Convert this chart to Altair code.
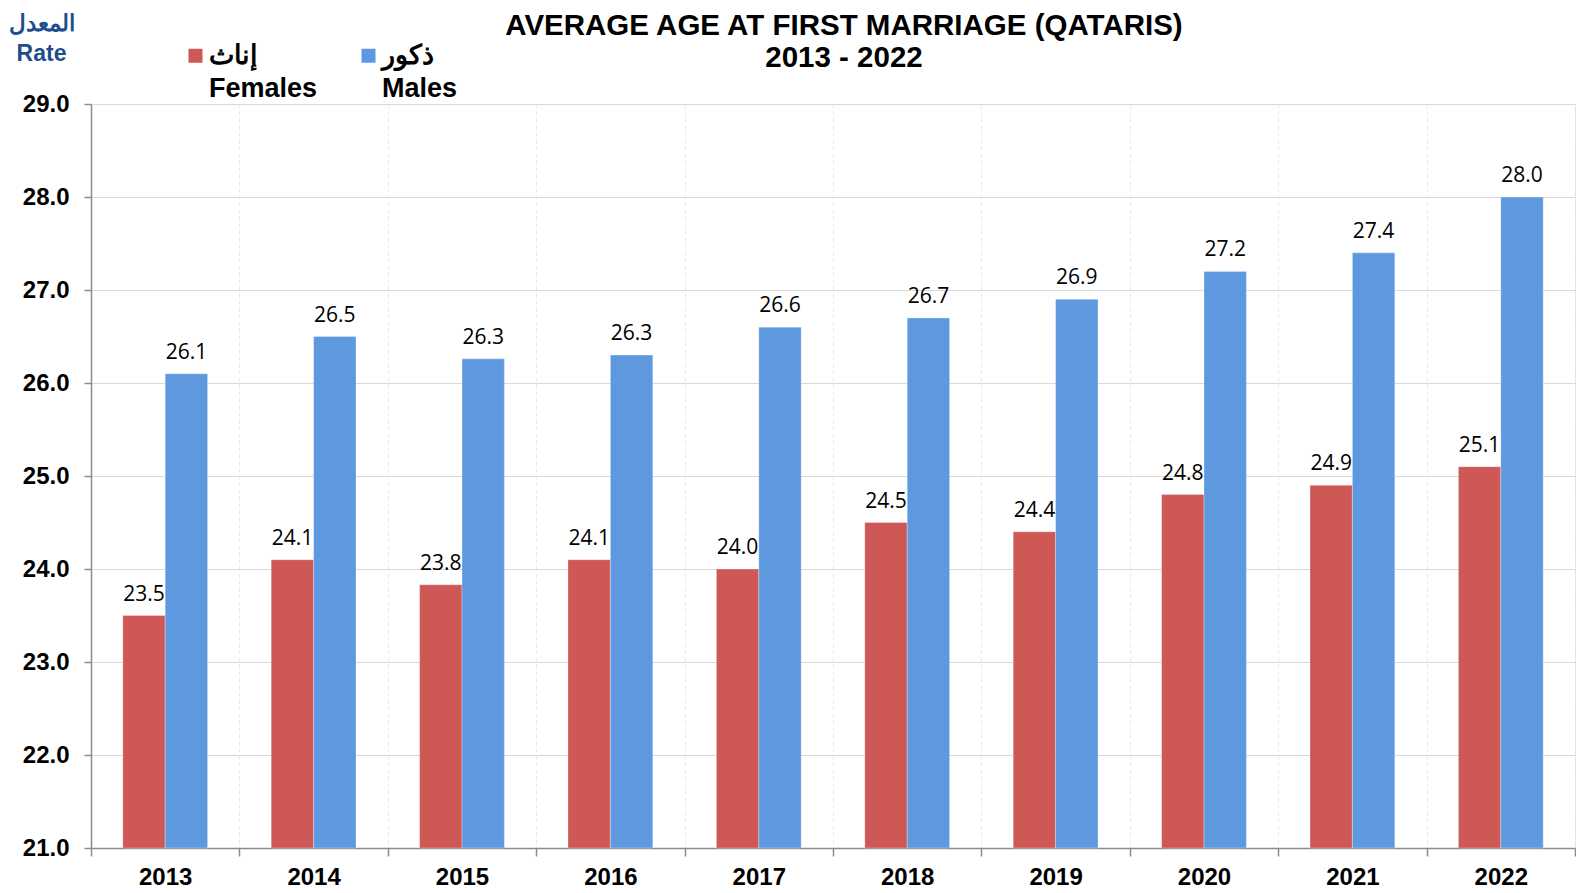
import altair as alt
import pandas as pd

years = ["2013", "2014", "2015", "2016", "2017", "2018", "2019", "2020", "2021", "2022"]
females = [23.5, 24.1, 23.83, 24.1, 24.0, 24.5, 24.4, 24.8, 24.9, 25.1]
males = [26.1, 26.5, 26.26, 26.3, 26.6, 26.7, 26.9, 27.2, 27.4, 28.0]
series = ["Females", "Males"]
colors = ["#CD5855", "#5E99E0"]
y_ticks = [21, 22, 23, 24, 25, 26, 27, 28, 29]
y_min = 21
y_max = 29
title_lines = ["AVERAGE AGE AT FIRST MARRIAGE (QATARIS)", "2013 - 2022"]
y_title = ["المعدل", "Rate"]

rows = []
for i, yr in enumerate(years):
    rows.append({"year": yr, "sex": "Females", "value": females[i]})
    rows.append({"year": yr, "sex": "Males", "value": males[i]})
df = pd.DataFrame(rows)

x_enc = alt.X(
    "year:N",
    sort=years,
    title=None,
    scale=alt.Scale(paddingInner=0, paddingOuter=0),
    axis=alt.Axis(
        tickBand="extent",
        grid=True,
        gridColor="#E8E8E8",
        gridDash=[4, 3],
        gridWidth=1,
        domainColor="#8C8C8C",
        domainWidth=1.5,
        tickColor="#8C8C8C",
        tickWidth=1.5,
        tickSize=8,
        labelAngle=0,
        labelFont="Liberation Sans",
        labelFontWeight="bold",
        labelFontSize=24,
        labelColor="#000000",
        labelPadding=9,
    ),
)
xoff_enc = alt.XOffset(
    "sex:N", sort=series,
    scale=alt.Scale(domain=series, paddingInner=0, paddingOuter=0.75),
)
y_enc = alt.Y(
    "value:Q",
    scale=alt.Scale(domain=[y_min, y_max], zero=False, nice=False),
    axis=alt.Axis(
        values=y_ticks,
        format=".1f",
        grid=True,
        gridColor="#D9D9D9",
        gridWidth=1,
        domainColor="#8C8C8C",
        domainWidth=1.5,
        tickColor="#8C8C8C",
        tickWidth=1.5,
        tickSize=7,
        labelFont="Liberation Sans",
        labelFontWeight="bold",
        labelFontSize=24,
        labelColor="#000000",
        labelPadding=15,
        title=y_title,
        titleAngle=0,
        titleAlign="center",
        titleBaseline="alphabetic",
        titleX=-50,
        titleY=-74,
        titleFont="Liberation Sans",
        titleFontWeight="bold",
        titleFontSize=23,
        titleLineHeight=30,
        titleColor="#1F4E8C",
    ),
)

base = alt.Chart(df).encode(x=x_enc, xOffset=xoff_enc, y=y_enc)

bars = base.mark_bar(stroke="#FFFFFF", strokeWidth=0.6, strokeOpacity=0.5).encode(
    y2=alt.datum(y_min),
    color=alt.Color(
        "sex:N",
        scale=alt.Scale(domain=series, range=colors),
        legend=alt.Legend(
            title=None,
            orient="none",
            legendX=91,
            legendY=-62,
            direction="horizontal",
            padding=0,
            symbolType="square",
            symbolSize=196,
            symbolStrokeWidth=0,
            symbolOpacity=1,
            labelFont="Liberation Sans",
            labelFontWeight="bold",
            labelFontSize=27,
            labelColor="#000000",
            labelBaseline="middle",
            labelOffset=0,
            labelLimit=0,
            columnPadding=37,
            labelExpr="datum.label == 'Females' ? ['إناث', 'Females'] : ['ذكور', 'Males']",
        ),
    ),
)

labels = base.mark_text(
    font="Open Sans",
    fontSize=21,
    color="#000000",
    baseline="alphabetic",
    dy=-15,
).encode(text=alt.Text("value:Q", format=".1f"))

chart = (
    alt.layer(bars, labels)
    .properties(
        width=1484,
        height=744,
        padding={"left": 0, "top": 2, "right": 0, "bottom": 0},
        title=alt.Title(
            text=title_lines,
            font="Liberation Sans",
            fontSize=29.5,
            fontWeight="bold",
            color="#000000",
            lineHeight=32,
            anchor="middle",
            dx=11,
            offset=-61,
        ),
    )
    .configure_view(stroke=None)
    .configure(style={"guide-label": {"lineHeight": 33}})
)

chart.save("out.html", embed_options={"renderer": "svg", "actions": False})
